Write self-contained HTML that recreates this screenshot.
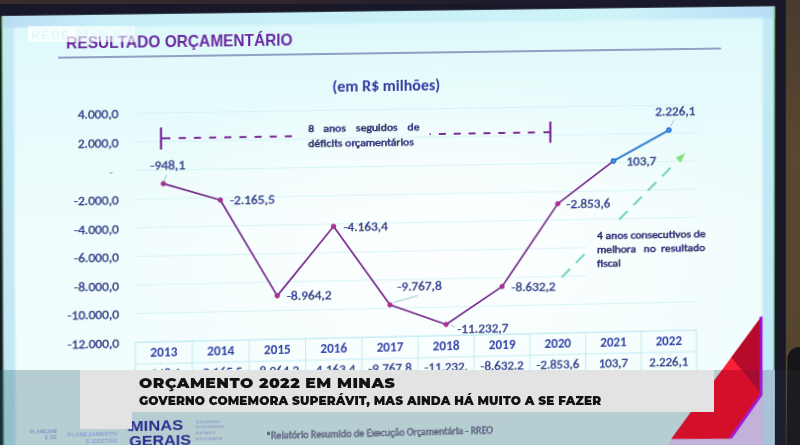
<!DOCTYPE html>
<html><head><meta charset="utf-8"><title>Resultado Orçamentário</title>
<style>
html,body{margin:0;padding:0;width:800px;height:445px;overflow:hidden;background:#181828}
#stage{position:relative;width:800px;height:445px;overflow:hidden;background:#181828}
.abs{position:absolute}
.slide{position:absolute;left:0;top:0;width:800px;height:480px;transform-origin:0 0;transform:matrix3d(1.024479,-0.012520,0,0.00002862,0.003907,1.008404,0,0.00000668,0,0,1,0,-3.3610,0.0856,0,1)}
.slide svg{display:block}
.blur{filter:blur(0.35px)}
.tx{stroke:currentColor;stroke-width:0.3px;paint-order:stroke}
.tx2{stroke:currentColor;stroke-width:0.45px;paint-order:stroke}
.clipC{position:absolute;left:0;top:370px;width:800px;height:75px;overflow:hidden}
.clipC .slide{top:-370px}
.cap{position:absolute;font-family:Montserrat,'DejaVu Sans',sans-serif;font-weight:900;color:#121212;white-space:nowrap;transform-origin:0 0}
.cap1{left:138.6px;top:374.1px;font-size:14.5px;line-height:18px;letter-spacing:0.45px;transform:scaleX(1.08);font-weight:870}
.cap2{left:138.6px;top:393.8px;font-size:11.8px;line-height:14px;letter-spacing:0.1px;transform:scaleX(1.02);font-weight:860}
</style></head>
<body>
<div id="stage">
<div class="abs" style="left:0;top:0;width:800px;height:3.5px;background:linear-gradient(90deg,#3a2c2c 0%,#30262c 35%,#1c1a2c 65%,#181828 100%)"></div>
<svg class="abs" style="left:0;top:0" width="800" height="445" viewBox="0 0 800 445"><defs><linearGradient id="brn" x1="0" y1="0" x2="0" y2="1"><stop offset="0" stop-color="#4a3b2e"/><stop offset="0.35" stop-color="#584830"/><stop offset="0.8" stop-color="#54452f"/></linearGradient></defs><rect x="785.8" y="0" width="14.2" height="445" fill="url(#brn)"/><path d="M800 347 C794 347 789.5 350 787.5 357 L786.5 445 L800 445 Z" fill="#151418"/></svg>
<div class="slide blur">
<svg width="800" height="480" viewBox="0 0 800 480">
<defs><linearGradient id="topedge" x1="0" x2="1" y1="0" y2="0"><stop offset="0" stop-color="#7fd07a"/><stop offset="0.06" stop-color="#2f5a3a"/><stop offset="0.7" stop-color="#3a6a40"/><stop offset="0.85" stop-color="#7cc870"/><stop offset="1" stop-color="#90e27e"/></linearGradient><linearGradient id="bgv" x1="0" x2="0" y1="0" y2="1"><stop offset="0" stop-color="#def9fb"/><stop offset="0.17" stop-color="#e6fbfc"/><stop offset="0.45" stop-color="#f1fdfd"/><stop offset="1" stop-color="#f3fefe"/></linearGradient><radialGradient id="bgr" gradientUnits="userSpaceOnUse" cx="440" cy="265" r="330" gradientTransform="translate(440 265) scale(1 0.6) translate(-440 -265)"><stop offset="0" stop-color="#ffffff" stop-opacity="0.85"/><stop offset="0.5" stop-color="#ffffff" stop-opacity="0.5"/><stop offset="1" stop-color="#ffffff" stop-opacity="0"/></radialGradient><linearGradient id="topband" x1="0" x2="1" y1="0" y2="0"><stop offset="0" stop-color="#b9dcf4"/><stop offset="0.12" stop-color="#c6eef8"/><stop offset="0.8" stop-color="#cdf3f8"/><stop offset="1" stop-color="#b8dcf6"/></linearGradient><filter id="soft" x="-2%" y="-2%" width="104%" height="104%"><feGaussianBlur stdDeviation="1.2"/></filter></defs>
<rect x="4.8" y="15.9" width="771.5" height="460" fill="#c3e9f6"/>
<rect x="4.8" y="15.9" width="771.5" height="12" fill="url(#topband)"/>
<rect x="16.8" y="27.8" width="747.2" height="450" fill="url(#bgv)" filter="url(#soft)"/>
<rect x="16.8" y="27.8" width="747.2" height="450" fill="url(#bgr)"/>
<line x1="775.6" y1="15.9" x2="775.6" y2="476" stroke="#86e07e" stroke-width="1.4"/>
<line x1="4.8" y1="16.4" x2="776.3" y2="16.4" stroke="url(#topedge)" stroke-width="1"/>
<line x1="5.3" y1="15.9" x2="5.3" y2="476" stroke="#6fc070" stroke-width="1.1"/>
<text x="67.7" y="49.3" font-family="'Liberation Sans', sans-serif" font-weight="bold" font-size="15.6" fill="#6a2aa0" textLength="223.4" lengthAdjust="spacingAndGlyphs">RESULTADO ORÇAMENTÁRIO</text>
<line x1="60" y1="58" x2="721.6" y2="58" stroke="#7482b0" stroke-width="1.3"/>
<text x="330.5" y="96.0" font-family="Carlito, 'Liberation Sans', sans-serif" font-weight="bold" font-size="15" fill="#3438a2" textLength="107.8" lengthAdjust="spacingAndGlyphs">(em R$ milhões)</text>
<line x1="134.9" y1="114.48" x2="696.9" y2="114.48" stroke="#d6f3f7" stroke-width="1"/>
<line x1="134.9" y1="143.04" x2="696.9" y2="143.04" stroke="#d6f3f7" stroke-width="1"/>
<line x1="134.9" y1="171.60" x2="696.9" y2="171.60" stroke="#d6f3f7" stroke-width="1"/>
<line x1="134.9" y1="200.16" x2="696.9" y2="200.16" stroke="#d6f3f7" stroke-width="1"/>
<line x1="134.9" y1="228.72" x2="696.9" y2="228.72" stroke="#d6f3f7" stroke-width="1"/>
<line x1="134.9" y1="257.28" x2="585" y2="257.28" stroke="#d6f3f7" stroke-width="1"/>
<line x1="134.9" y1="285.84" x2="585" y2="285.84" stroke="#d6f3f7" stroke-width="1"/>
<line x1="134.9" y1="314.40" x2="696.9" y2="314.40" stroke="#d6f3f7" stroke-width="1"/>
<line x1="134.9" y1="342.96" x2="696.9" y2="342.96" stroke="#d6f3f7" stroke-width="1"/>
<text x="78.91" y="119.48" font-family="Carlito, 'Liberation Sans', sans-serif" font-size="12.4" fill="#3343a6" class="tx" textLength="40.09" lengthAdjust="spacingAndGlyphs">4.000,0</text>
<text x="78.91" y="148.04" font-family="Carlito, 'Liberation Sans', sans-serif" font-size="12.4" fill="#3343a6" class="tx" textLength="40.09" lengthAdjust="spacingAndGlyphs">2.000,0</text>
<text x="113.5" y="176.60" font-family="Carlito, 'Liberation Sans', sans-serif" font-size="13" fill="#8090b8" text-anchor="end">-</text>
<text x="74.87" y="205.16" font-family="Carlito, 'Liberation Sans', sans-serif" font-size="12.4" fill="#3343a6" class="tx" textLength="44.13" lengthAdjust="spacingAndGlyphs">-2.000,0</text>
<text x="74.87" y="233.72" font-family="Carlito, 'Liberation Sans', sans-serif" font-size="12.4" fill="#3343a6" class="tx" textLength="44.13" lengthAdjust="spacingAndGlyphs">-4.000,0</text>
<text x="74.87" y="262.28" font-family="Carlito, 'Liberation Sans', sans-serif" font-size="12.4" fill="#3343a6" class="tx" textLength="44.13" lengthAdjust="spacingAndGlyphs">-6.000,0</text>
<text x="74.87" y="290.84" font-family="Carlito, 'Liberation Sans', sans-serif" font-size="12.4" fill="#3343a6" class="tx" textLength="44.13" lengthAdjust="spacingAndGlyphs">-8.000,0</text>
<text x="68.18" y="319.40" font-family="Carlito, 'Liberation Sans', sans-serif" font-size="12.4" fill="#3343a6" class="tx" textLength="50.82" lengthAdjust="spacingAndGlyphs">-10.000,0</text>
<text x="68.18" y="347.96" font-family="Carlito, 'Liberation Sans', sans-serif" font-size="12.4" fill="#3343a6" class="tx" textLength="50.82" lengthAdjust="spacingAndGlyphs">-12.000,0</text>
<line x1="160.8" y1="129" x2="160.8" y2="151" stroke="#7a2a98" stroke-width="2.2"/>
<line x1="160.8" y1="139.9" x2="170" y2="139.9" stroke="#7a2a98" stroke-width="2"/>
<line x1="178.3" y1="139.9" x2="185.3" y2="139.9" stroke="#7a2a98" stroke-width="2"/>
<line x1="193.3" y1="139.9" x2="200.3" y2="139.9" stroke="#7a2a98" stroke-width="2"/>
<line x1="208.3" y1="139.9" x2="215.3" y2="139.9" stroke="#7a2a98" stroke-width="2"/>
<line x1="223.3" y1="139.9" x2="230.3" y2="139.9" stroke="#7a2a98" stroke-width="2"/>
<line x1="238.3" y1="139.9" x2="245.3" y2="139.9" stroke="#7a2a98" stroke-width="2"/>
<line x1="253.3" y1="139.9" x2="260.3" y2="139.9" stroke="#7a2a98" stroke-width="2"/>
<line x1="268.3" y1="139.9" x2="275.3" y2="139.9" stroke="#7a2a98" stroke-width="2"/>
<line x1="283.3" y1="139.9" x2="290.3" y2="139.9" stroke="#7a2a98" stroke-width="2"/>
<line x1="427.6" y1="140.1" x2="428.9" y2="140.1" stroke="#7a2a98" stroke-width="1.6"/>
<line x1="436.9" y1="140" x2="443.9" y2="140" stroke="#7a2a98" stroke-width="2"/>
<line x1="451.8" y1="140" x2="458.8" y2="140" stroke="#7a2a98" stroke-width="2"/>
<line x1="466.7" y1="140" x2="473.7" y2="140" stroke="#7a2a98" stroke-width="2"/>
<line x1="481.6" y1="140" x2="488.6" y2="140" stroke="#7a2a98" stroke-width="2"/>
<line x1="496.5" y1="140" x2="503.5" y2="140" stroke="#7a2a98" stroke-width="2"/>
<line x1="511.4" y1="140" x2="518.4" y2="140" stroke="#7a2a98" stroke-width="2"/>
<line x1="526.3" y1="140" x2="533.3" y2="140" stroke="#7a2a98" stroke-width="2"/>
<line x1="541.9" y1="140" x2="548.9" y2="140" stroke="#7a2a98" stroke-width="2"/>
<line x1="548.9" y1="129.3" x2="548.9" y2="150.6" stroke="#7a2a98" stroke-width="2.2"/>
<text class="tx2" x="306.5" y="136.1" font-family="Carlito, 'Liberation Sans', sans-serif" font-size="10.5" fill="#3438a2" textLength="5.94" lengthAdjust="spacingAndGlyphs">8</text>
<text class="tx2" x="321.6" y="136.1" font-family="Carlito, 'Liberation Sans', sans-serif" font-size="10.5" fill="#3438a2" textLength="22.48" lengthAdjust="spacingAndGlyphs">anos</text>
<text class="tx2" x="354.1" y="136.1" font-family="Carlito, 'Liberation Sans', sans-serif" font-size="10.5" fill="#3438a2" textLength="41.59" lengthAdjust="spacingAndGlyphs">seguidos</text>
<text class="tx2" x="405.6" y="136.1" font-family="Carlito, 'Liberation Sans', sans-serif" font-size="10.5" fill="#3438a2" textLength="11.97" lengthAdjust="spacingAndGlyphs">de</text>
<text class="tx2" x="306.5" y="151.1" font-family="Carlito, 'Liberation Sans', sans-serif" font-size="10.5" fill="#3438a2" textLength="105.36" lengthAdjust="spacingAndGlyphs">déficits orçamentários</text>
<line x1="560.31" y1="286.80" x2="568.85" y2="278.37" stroke="#7ad6bc" stroke-width="2.2"/>
<line x1="574.83" y1="272.46" x2="583.37" y2="264.03" stroke="#7ad6bc" stroke-width="2.2"/>
<line x1="618.38" y1="229.47" x2="626.92" y2="221.04" stroke="#7ad6bc" stroke-width="2.2"/>
<line x1="632.90" y1="215.13" x2="641.44" y2="206.70" stroke="#7ad6bc" stroke-width="2.2"/>
<line x1="647.41" y1="200.80" x2="655.95" y2="192.37" stroke="#7ad6bc" stroke-width="2.2"/>
<line x1="661.93" y1="186.47" x2="670.47" y2="178.04" stroke="#7ad6bc" stroke-width="2.2"/>
<polygon points="685.60,163.10 680.52,172.90 675.74,168.06" fill="#84e07c"/>
<text class="tx2" x="596.0" y="249.3" font-family="Carlito, 'Liberation Sans', sans-serif" font-size="10.5" fill="#3438a2" textLength="110.00" lengthAdjust="spacingAndGlyphs">4 anos consecutivos de</text>
<text class="tx2" x="596.0" y="263.3" font-family="Carlito, 'Liberation Sans', sans-serif" font-size="10.5" fill="#3438a2" textLength="39.58" lengthAdjust="spacingAndGlyphs">melhora</text>
<text class="tx2" x="643.3" y="263.3" font-family="Carlito, 'Liberation Sans', sans-serif" font-size="10.5" fill="#3438a2" textLength="12.31" lengthAdjust="spacingAndGlyphs">no</text>
<text class="tx2" x="660.9" y="263.3" font-family="Carlito, 'Liberation Sans', sans-serif" font-size="10.5" fill="#3438a2" textLength="44.81" lengthAdjust="spacingAndGlyphs">resultado</text>
<text class="tx2" x="596.0" y="277.0" font-family="Carlito, 'Liberation Sans', sans-serif" font-size="10.5" fill="#3438a2" textLength="23.89" lengthAdjust="spacingAndGlyphs">fiscal</text>
<line x1="163.6" y1="182.5" x2="166.2" y2="176.5" stroke="#98c6d8" stroke-width="1"/>
<line x1="391" y1="308.8" x2="415.8" y2="302.3" stroke="#98c6d8" stroke-width="1"/>
<line x1="448.5" y1="332.5" x2="452.5" y2="335" stroke="#98c6d8" stroke-width="1"/>
<line x1="670.6" y1="135.8" x2="674.2" y2="129.4" stroke="#98c6d8" stroke-width="1"/>
<polyline points="163.00,185.14 219.20,202.52 275.40,299.61 331.60,231.05 387.80,311.08 444.00,332.00 500.20,294.87 556.40,212.35 612.60,170.12" fill="none" stroke="#72268a" stroke-width="1.65" stroke-linejoin="round"/>
<line x1="612.60" y1="170.12" x2="668.80" y2="139.81" stroke="#2a7ad0" stroke-width="1.9"/>
<circle cx="163.00" cy="185.14" r="2.2" fill="#b8309a" stroke="#8a2080" stroke-width="0.8"/>
<circle cx="219.20" cy="202.52" r="2.2" fill="#b8309a" stroke="#8a2080" stroke-width="0.8"/>
<circle cx="275.40" cy="299.61" r="2.2" fill="#b8309a" stroke="#8a2080" stroke-width="0.8"/>
<circle cx="331.60" cy="231.05" r="2.2" fill="#b8309a" stroke="#8a2080" stroke-width="0.8"/>
<circle cx="387.80" cy="311.08" r="2.2" fill="#b8309a" stroke="#8a2080" stroke-width="0.8"/>
<circle cx="444.00" cy="332.00" r="2.2" fill="#b8309a" stroke="#8a2080" stroke-width="0.8"/>
<circle cx="500.20" cy="294.87" r="2.2" fill="#b8309a" stroke="#8a2080" stroke-width="0.8"/>
<circle cx="556.40" cy="212.35" r="2.2" fill="#b8309a" stroke="#8a2080" stroke-width="0.8"/>
<circle cx="612.60" cy="170.12" r="2.2" fill="#4c9cf0" stroke="#1f6cc8" stroke-width="1.2"/>
<circle cx="668.80" cy="139.81" r="2.2" fill="#4c9cf0" stroke="#1f6cc8" stroke-width="1.2"/>
<text x="150.3" y="171.3" font-family="Carlito, 'Liberation Sans', sans-serif" font-size="12.3" fill="#3343a6" class="tx" textLength="34.37" lengthAdjust="spacingAndGlyphs">-948,1</text>
<text x="228.7" y="206.9" font-family="Carlito, 'Liberation Sans', sans-serif" font-size="12.3" fill="#3343a6" class="tx" textLength="44.46" lengthAdjust="spacingAndGlyphs">-2.165,5</text>
<text x="285.0" y="303.8" font-family="Carlito, 'Liberation Sans', sans-serif" font-size="12.3" fill="#3343a6" class="tx" textLength="44.46" lengthAdjust="spacingAndGlyphs">-8.964,2</text>
<text x="341.4" y="235.7" font-family="Carlito, 'Liberation Sans', sans-serif" font-size="12.3" fill="#3343a6" class="tx" textLength="44.46" lengthAdjust="spacingAndGlyphs">-4.163,4</text>
<text x="395.2" y="296.6" font-family="Carlito, 'Liberation Sans', sans-serif" font-size="12.3" fill="#3343a6" class="tx" textLength="44.46" lengthAdjust="spacingAndGlyphs">-9.767,8</text>
<text x="455.3" y="340.8" font-family="Carlito, 'Liberation Sans', sans-serif" font-size="12.3" fill="#3343a6" class="tx" textLength="51.21" lengthAdjust="spacingAndGlyphs">-11.232,7</text>
<text x="509.6" y="299.6" font-family="Carlito, 'Liberation Sans', sans-serif" font-size="12.3" fill="#3343a6" class="tx" textLength="44.46" lengthAdjust="spacingAndGlyphs">-8.632,2</text>
<text x="565.1" y="216.6" font-family="Carlito, 'Liberation Sans', sans-serif" font-size="12.3" fill="#3343a6" class="tx" textLength="44.46" lengthAdjust="spacingAndGlyphs">-2.853,6</text>
<text x="625.7" y="174.6" font-family="Carlito, 'Liberation Sans', sans-serif" font-size="12.3" fill="#3343a6" class="tx" textLength="30.30" lengthAdjust="spacingAndGlyphs">103,7</text>
<text x="655.1" y="125.1" font-family="Carlito, 'Liberation Sans', sans-serif" font-size="12.3" fill="#3343a6" class="tx" textLength="40.39" lengthAdjust="spacingAndGlyphs">2.226,1</text>
<rect x="134.9" y="343.36" width="562" height="44" fill="none" stroke="#c4ecf5" stroke-width="1.1"/>
<line x1="134.9" y1="365.0" x2="696.9" y2="365.0" stroke="#c4ecf5" stroke-width="1.1"/>
<line x1="191.10" y1="343.36" x2="191.10" y2="387.4" stroke="#c4ecf5" stroke-width="1.1"/>
<line x1="247.30" y1="343.36" x2="247.30" y2="387.4" stroke="#c4ecf5" stroke-width="1.1"/>
<line x1="303.50" y1="343.36" x2="303.50" y2="387.4" stroke="#c4ecf5" stroke-width="1.1"/>
<line x1="359.70" y1="343.36" x2="359.70" y2="387.4" stroke="#c4ecf5" stroke-width="1.1"/>
<line x1="415.90" y1="343.36" x2="415.90" y2="387.4" stroke="#c4ecf5" stroke-width="1.1"/>
<line x1="472.10" y1="343.36" x2="472.10" y2="387.4" stroke="#c4ecf5" stroke-width="1.1"/>
<line x1="528.30" y1="343.36" x2="528.30" y2="387.4" stroke="#c4ecf5" stroke-width="1.1"/>
<line x1="584.50" y1="343.36" x2="584.50" y2="387.4" stroke="#c4ecf5" stroke-width="1.1"/>
<line x1="640.70" y1="343.36" x2="640.70" y2="387.4" stroke="#c4ecf5" stroke-width="1.1"/>
<text x="149.60" y="358.2" font-family="Carlito, 'Liberation Sans', sans-serif" font-weight="bold" font-size="13.3" fill="#3343a6" textLength="26.8" lengthAdjust="spacingAndGlyphs">2013</text>
<text x="146.20" y="379.3" font-family="Carlito, 'Liberation Sans', sans-serif" font-size="12.4" fill="#3343a6" class="tx" textLength="33.59" lengthAdjust="spacingAndGlyphs">-948,1</text>
<text x="205.80" y="358.2" font-family="Carlito, 'Liberation Sans', sans-serif" font-weight="bold" font-size="13.3" fill="#3343a6" textLength="26.8" lengthAdjust="spacingAndGlyphs">2014</text>
<text x="197.47" y="379.3" font-family="Carlito, 'Liberation Sans', sans-serif" font-size="12.4" fill="#3343a6" class="tx" textLength="43.46" lengthAdjust="spacingAndGlyphs">-2.165,5</text>
<text x="262.00" y="358.2" font-family="Carlito, 'Liberation Sans', sans-serif" font-weight="bold" font-size="13.3" fill="#3343a6" textLength="26.8" lengthAdjust="spacingAndGlyphs">2015</text>
<text x="253.67" y="379.3" font-family="Carlito, 'Liberation Sans', sans-serif" font-size="12.4" fill="#3343a6" class="tx" textLength="43.46" lengthAdjust="spacingAndGlyphs">-8.964,2</text>
<text x="318.20" y="358.2" font-family="Carlito, 'Liberation Sans', sans-serif" font-weight="bold" font-size="13.3" fill="#3343a6" textLength="26.8" lengthAdjust="spacingAndGlyphs">2016</text>
<text x="309.87" y="379.3" font-family="Carlito, 'Liberation Sans', sans-serif" font-size="12.4" fill="#3343a6" class="tx" textLength="43.46" lengthAdjust="spacingAndGlyphs">-4.163,4</text>
<text x="374.40" y="358.2" font-family="Carlito, 'Liberation Sans', sans-serif" font-weight="bold" font-size="13.3" fill="#3343a6" textLength="26.8" lengthAdjust="spacingAndGlyphs">2017</text>
<text x="366.07" y="379.3" font-family="Carlito, 'Liberation Sans', sans-serif" font-size="12.4" fill="#3343a6" class="tx" textLength="43.46" lengthAdjust="spacingAndGlyphs">-9.767,8</text>
<text x="430.60" y="358.2" font-family="Carlito, 'Liberation Sans', sans-serif" font-weight="bold" font-size="13.3" fill="#3343a6" textLength="26.8" lengthAdjust="spacingAndGlyphs">2018</text>
<text x="422.27" y="379.3" font-family="Carlito, 'Liberation Sans', sans-serif" font-size="12.4" fill="#3343a6" class="tx" textLength="43.46" lengthAdjust="spacingAndGlyphs">-11.232,</text>
<text x="486.80" y="358.2" font-family="Carlito, 'Liberation Sans', sans-serif" font-weight="bold" font-size="13.3" fill="#3343a6" textLength="26.8" lengthAdjust="spacingAndGlyphs">2019</text>
<text x="478.46" y="379.3" font-family="Carlito, 'Liberation Sans', sans-serif" font-size="12.4" fill="#3343a6" class="tx" textLength="43.48" lengthAdjust="spacingAndGlyphs">-8.632.2</text>
<text x="543.00" y="358.2" font-family="Carlito, 'Liberation Sans', sans-serif" font-weight="bold" font-size="13.3" fill="#3343a6" textLength="26.8" lengthAdjust="spacingAndGlyphs">2020</text>
<text x="534.67" y="379.3" font-family="Carlito, 'Liberation Sans', sans-serif" font-size="12.4" fill="#3343a6" class="tx" textLength="43.46" lengthAdjust="spacingAndGlyphs">-2.853,6</text>
<text x="599.20" y="358.2" font-family="Carlito, 'Liberation Sans', sans-serif" font-weight="bold" font-size="13.3" fill="#3343a6" textLength="26.8" lengthAdjust="spacingAndGlyphs">2021</text>
<text x="597.79" y="379.3" font-family="Carlito, 'Liberation Sans', sans-serif" font-size="12.4" fill="#3343a6" class="tx" textLength="29.61" lengthAdjust="spacingAndGlyphs">103,7</text>
<text x="655.40" y="358.2" font-family="Carlito, 'Liberation Sans', sans-serif" font-weight="bold" font-size="13.3" fill="#3343a6" textLength="26.8" lengthAdjust="spacingAndGlyphs">2022</text>
<text x="649.06" y="379.3" font-family="Carlito, 'Liberation Sans', sans-serif" font-size="12.4" fill="#3343a6" class="tx" textLength="39.48" lengthAdjust="spacingAndGlyphs">2.226,1</text>
<polygon points="764.6,330.3 764.6,480 652.5,480" fill="#e4dcf4"/>
<polygon points="763.6,330.3 671.5,453.2 731.2,454.4 763.8,410.3" fill="#f0122e"/>
<polygon points="763.6,330.3 732.4,371.8 763.8,410.3" fill="#b80a2a"/>
<polygon points="732.4,371.8 744,386 722,386" fill="#ff2a40" opacity="0.55"/>
<polyline points="762.8,331 762.8,410.5 731.8,453.8" fill="none" stroke="#9a12d6" stroke-width="3"/>
</svg>
</div>
<div class="abs" style="left:0;top:370px;width:775px;height:75px;background:rgba(40,95,110,0.3)"></div>
<div class="abs" style="left:775px;top:370px;width:25px;height:75px;background:rgba(70,80,90,0.12)"></div>
<div class="clipC"><div class="slide">
<svg width="800" height="480" viewBox="0 0 800 480">
<polygon points="764.6,330.3 764.6,480 652.5,480" fill="#c2b2da"/>
<polygon points="763.6,330.3 671.5,453.2 731.2,454.4 763.8,410.3" fill="#d40f2a"/>
<polygon points="763.6,330.3 732.4,371.8 763.8,410.3" fill="#a20d30"/>
<polyline points="762.8,331 762.8,410.5 731.8,453.8" fill="none" stroke="#a31ad8" stroke-width="3"/>
<rect x="764.9" y="380" width="12" height="100" fill="#a9c3d6"/>
<text x="57.5" y="432.4" font-family="'Liberation Sans', sans-serif" font-weight="bold" font-size="4.6" fill="#7f93c4" text-anchor="end" letter-spacing="0.2">PLANEJAM</text>
<text x="57.5" y="437.6" font-family="'Liberation Sans', sans-serif" font-weight="bold" font-size="4.6" fill="#7f93c4" text-anchor="end" letter-spacing="0.2">E GE</text>
<text x="117" y="435.6" font-family="'Liberation Sans', sans-serif" font-weight="bold" font-size="6" fill="#8fa0d2" text-anchor="end">PLANEJAMENTO</text>
<text x="117" y="443.2" font-family="'Liberation Sans', sans-serif" font-weight="bold" font-size="6" fill="#8fa0d2" text-anchor="end">E GESTÃO</text>
<text x="129.3" y="432.2" font-family="'Liberation Sans', sans-serif" font-weight="bold" font-size="15" fill="#2b2d8e" textLength="52.5" lengthAdjust="spacingAndGlyphs">MINAS</text>
<text x="128.6" y="446.6" font-family="'Liberation Sans', sans-serif" font-weight="bold" font-size="15" fill="#2b2d8e" textLength="61" lengthAdjust="spacingAndGlyphs">GERAIS</text>
<rect x="127.6" y="429.2" width="2.2" height="2.4" fill="#2b2d8e"/>
<text x="194.5" y="425.6" font-family="'Liberation Sans', sans-serif" font-weight="bold" font-size="3.9" fill="#8a94c8" letter-spacing="0.7">GOVERNO</text>
<text x="194.5" y="431.5" font-family="'Liberation Sans', sans-serif" font-weight="bold" font-size="3.9" fill="#8a94c8" letter-spacing="0.7">DIFERENTE</text>
<text x="194.5" y="437.4" font-family="'Liberation Sans', sans-serif" font-weight="bold" font-size="3.9" fill="#8a94c8" letter-spacing="0.7">ESTADO</text>
<text x="194.5" y="443.3" font-family="'Liberation Sans', sans-serif" font-weight="bold" font-size="3.9" fill="#8a94c8" letter-spacing="0.7">EFICIENTE</text>
<text x="264" y="443.4" font-family="Carlito, 'Liberation Sans', sans-serif" font-size="10.2" fill="#6f6d98" class="tx" textLength="227" lengthAdjust="spacingAndGlyphs">*Relatório Resumido de Execução Orçamentária - RREO</text>
</svg>
</div></div>
<div class="abs" style="left:80px;top:370px;width:634px;height:41.5px;background:#e3e3e3"></div>
<div class="abs" style="left:80px;top:411px;width:51.6px;height:17.7px;background:#e3e3e3"></div>
<div class="cap cap1">ORÇAMENTO 2022 EM MINAS</div>
<div class="cap cap2">GOVERNO COMEMORA SUPERÁVIT, MAS AINDA HÁ MUITO A SE FAZER</div>
<div class="abs" style="left:27.8px;top:25.7px;width:47.2px;height:16.6px;background:rgba(255,255,255,0.72)"></div>
<div class="abs" style="left:75px;top:26.5px;width:60px;height:15.2px;background:rgba(255,255,255,0.55)"></div>
<svg class="abs" style="left:0;top:0" width="200" height="60" viewBox="0 0 200 60"><text x="31.5" y="39.2" font-family="'Liberation Sans',sans-serif" font-size="11.5" fill="rgba(212,237,248,0.75)" textLength="37.5" lengthAdjust="spacing">REDE</text><text x="76.5" y="40" font-family="'Liberation Sans',sans-serif" font-size="14.5" fill="rgba(214,238,248,0.55)" textLength="58" lengthAdjust="spacing">MINAS</text><rect x="75" y="26" width="60" height="1" fill="rgba(255,255,255,0.5)"/></svg>
</div>
</body></html>
